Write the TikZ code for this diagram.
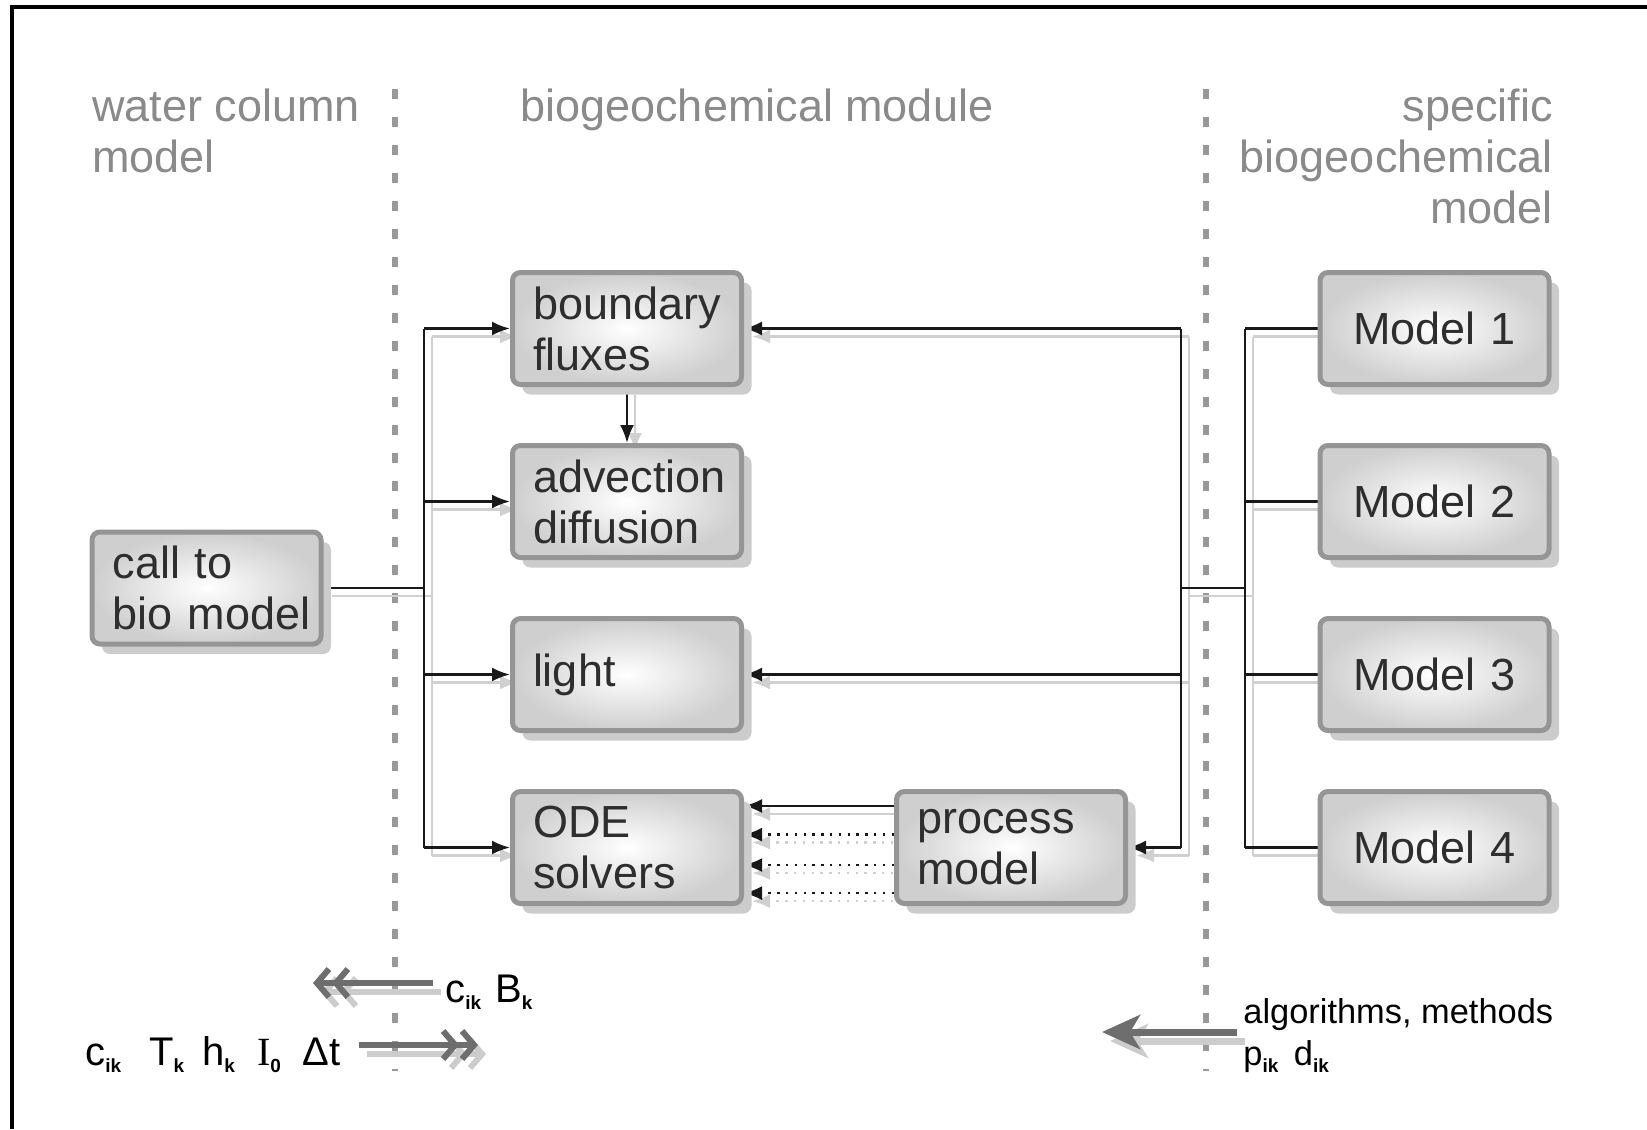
\documentclass[tikz,border=0pt]{standalone}
\usepackage{fontspec}
\setmainfont{Liberation Sans}
\newfontfamily\serifI{Liberation Serif}
\usetikzlibrary{positioning, arrows.meta, calc, shadows}
\definecolor{boxline}{HTML}{959595}
\definecolor{boxtext}{HTML}{2E2E2E}
\definecolor{headgray}{HTML}{8A8A8A}
\definecolor{wireshade}{HTML}{D0D0D0}
\definecolor{fatgray}{HTML}{6E6E6E}
\definecolor{sepgray}{HTML}{999999}
\pgfdeclarelayer{background}
\pgfsetlayers{background,main}
\newcommand\lowix[1]{\raisebox{-3.5pt}{\fontsize{9.5}{10}\selectfont\bfseries #1}}

\begin{document}
\begin{tikzpicture}[ x = 0.5pt, y = -0.5pt
                   , node distance = 28pt and 75pt
                   , >={Latex[length=9pt, width=7pt]}
                   , module/.style = { rectangle
                                     , rounded corners = 4pt
                                     , draw = boxline
                                     , line width = 2.5pt
                                     , inner color = white
                                     , outer color = black!19
                                     , drop shadow = {shadow xshift=5pt, shadow yshift=-5pt, fill=black!20, opacity=1}
                                     , minimum width = 114.5pt
                                     , minimum height = 56pt
                                     , text width = 94pt
                                     , inner xsep = 10.25pt
                                     , align = left
                                     , text = boxtext
                                     , font = {\fontsize{22.5}{25.5}\selectfont} }
                   , model/.style = {module, align = center}
                   , heading/.style = { inner sep = 0pt, text = headgray
                                      , font = {\fontsize{22.5}{25.5}\selectfont} }
                   , note/.style = { inner sep = 0pt, font = {\fontsize{20}{24}\selectfont} }
                   , wire/.style = {draw = black!90, line width = 1.2pt}
                   , wireshadow/.style = { draw = wireshade, line width = 1.2pt
                                         , transform canvas = {shift={(4pt,-4pt)}} }
                   , fat/.style = {draw = fatgray, fill = fatgray, line width = 3pt}
                   , fatshadow/.style = { draw = black!20, fill = black!20, line width = 3pt
                                        , transform canvas = {shift={(4pt,-4.5pt)}} }
                   , chevrons/.style = {-{Straight Barb[length=6pt, width=14pt] Straight Barb[length=6pt, width=14pt]}}
                   , bigtip/.style = {-{Stealth[length=19pt, width=17pt, inset=5pt]}}
                   , separator/.style = {draw = sepgray, line width = 3pt, dash pattern = on 5pt off 9pt}
                   ]

  \useasboundingbox (0,0) rectangle (1647,1129);
  \draw[line width = 1.6pt] (12,1129) -- (12,7) -- (1647,7);

  \node (wcm) [heading, anchor = base west, align = left] at (92,172) {water column\\model};
  \node (bgm) [heading, anchor = base west] at (520,121) {biogeochemical module};
  \node (sbm) [heading, anchor = base east, align = right] at (1553,223) {specific\\biogeochemical\\model};

  \node (call) [module] at (206.5,588) {call to\\\mbox{bio model}};

  \node (bfx) [module] at (627,328.5) {boundary\\fluxes};
  \node (adv) [module, below = of bfx] {advection\\diffusion};
  \node (light) [module, below = of adv] {light};
  \node (ode) [module, below = of light] {ODE\\solvers};
  \node (proc) [module, right = of ode] {process\\model};

  \node (m1) [model] at (1434.5,328.5) {Model 1};
  \node (m2) [model, below = of m1] {Model 2};
  \node (m3) [model, below = of m2] {Model 3};
  \node (m4) [model, below = of m3] {Model 4};

  \coordinate (lbus) at (424,588);
  \coordinate (rbus) at (1181,588);
  \coordinate (mbus) at (1245,588);

  \begin{pgfonlayer}{background}
    \draw[separator] (395,89) -- (395,1071);
    \draw[separator] (1206,89) -- (1206,1071);
    \foreach \ws in {wireshadow, wire} {
      \draw[\ws] (call) -- (lbus) (lbus |- bfx) -- (lbus |- ode);
      \foreach \mod in {bfx, adv, light, ode}
        \draw[\ws, ->] (lbus |- \mod) -- (\mod);
      \draw[\ws, ->] (bfx) -- (adv);
      \draw[\ws] (rbus |- bfx) -- (rbus |- proc) (rbus) -- (mbus) (mbus |- m1) -- (mbus |- m4);
      \foreach \mod in {bfx, light, proc}
        \draw[\ws, ->] (rbus |- \mod) -- (\mod);
      \foreach \mod in {m1, m2, m3, m4}
        \draw[\ws] (mbus |- \mod) -- (\mod);
      \draw[\ws, ->] ($(proc.north west)!.145!(proc.south west)$) -- ($(ode.north east)!.145!(ode.south east)$);
      \foreach \f in {.39, .65, .89}
        \draw[\ws, ->, dash pattern = on 1.2pt off 3.2pt] ($(proc.north west)!\f!(proc.south west)$) -- ($(ode.north east)!\f!(ode.south east)$);
    }
  \end{pgfonlayer}

  \node (cb) [note, anchor = base west] at (445,1002) {c\lowix{ik}\hspace{.35em}B\lowix{k}};
  \node (forcing) [note, anchor = base west] at (85,1065)
    {c\lowix{ik}\hspace{.7em}T\lowix{k}\hspace{.45em}h\lowix{k}\hspace{.55em}{\serifI I}\lowix{0}\hspace{.55em}Δt};
  \node (algo) [note, anchor = base west, align = left, font = {\fontsize{17.2}{21}\selectfont}] at (1243,1065)
    {algorithms, methods\\p\lowix{ik}\hspace{.45em}d\lowix{ik}};

  \coordinate (cbtip) at (313,983);
  \coordinate (dttip) at (478,1045);
  \coordinate (algotip) at (1102,1032);

  \foreach \fs in {fatshadow, fat} {
    \draw[\fs, chevrons, fill = none, shorten <= 6pt] (cb.west |- cbtip) -- (cbtip);
    \draw[\fs, chevrons, fill = none, shorten <= 9pt] (forcing.east |- dttip) -- (dttip);
    \draw[\fs, bigtip, line width = 3.5pt, shorten <= 3pt] (algo.west |- algotip) -- (algotip);
  }

\end{tikzpicture}
\end{document}
